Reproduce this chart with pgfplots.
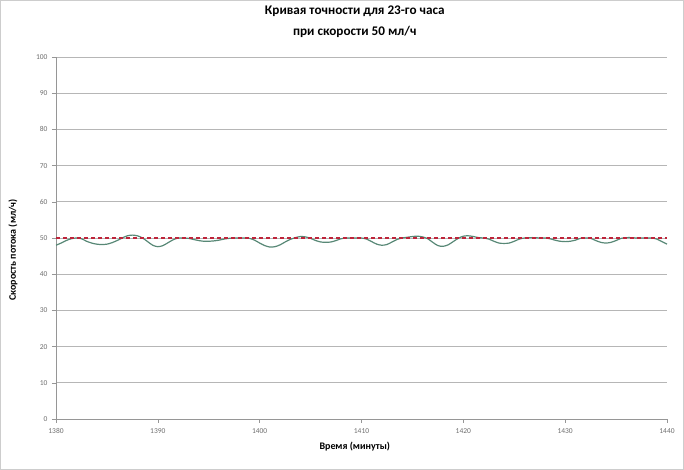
\documentclass[border=0pt]{standalone}
\usepackage{fontspec}
\setmainfont{Carlito}
\usepackage{pgfplots}
\pgfplotsset{compat=1.18}

\definecolor{curvegreen}{RGB}{88,136,118}
\definecolor{targetred}{RGB}{190,36,58}
\definecolor{gridgray}{RGB}{182,182,182}
\definecolor{axisgray}{RGB}{150,150,150}
\definecolor{ticktext}{RGB}{110,110,110}
\definecolor{framegray}{RGB}{205,205,205}

\begin{document}
\begin{tikzpicture}
  % chart area border (684 x 470)
  \draw[framegray, line width=0.8pt] (-55.6pt,-50.6pt) rectangle (627.6pt,418.6pt);

  \begin{axis}[
      scale only axis,
      width=611pt, height=362pt,
      xmin=1380, xmax=1440,
      ymin=0, ymax=100,
      xtick={1380,1390,...,1440},
      ytick={0,10,...,100},
      axis x line*=bottom,
      axis y line*=left,
      axis line style={axisgray, line width=0.6pt},
      tick align=outside,
      major tick length=4pt,
      tick style={axisgray, line width=0.5pt},
      ymajorgrids,
      grid style={gridgray, line width=0.7pt},
      /pgf/number format/assume math mode=true,
      /pgf/number format/1000 sep={},
      ticklabel style={font=\fontsize{7.5}{9}\selectfont, text=ticktext},
      yticklabel style={xshift=-1pt},
      xticklabel style={yshift=-2pt},
      title={Кривая точности для 23-го часа\\при скорости 50 мл/ч},
      title style={at={(axis description cs:0.489,1.0815)}, anchor=center,
        align=center, font=\fontsize{13.2}{21}\selectfont\bfseries},
      xlabel={Время (минуты)},
      xlabel style={at={(axis description cs:0.489,-0.0773)}, anchor=center,
        font=\fontsize{10}{12}\selectfont\bfseries},
      ylabel={Скорость потока (мл/ч)},
      ylabel style={at={(axis description cs:-0.0704,0.467)}, anchor=center,
        font=\fontsize{10}{12}\selectfont\bfseries},
      clip=false,
    ]

    % measured flow rate
    \addplot[curvegreen, line width=1.2pt, smooth, no marks] table {
      x y
      1380 48.0
      1380.5 48.6
      1381 49.3
      1381.5 49.8
      1382 50.0
      1382.5 49.8
      1383 49.1
      1383.5 48.6
      1384 48.3
      1384.5 48.2
      1385 48.3
      1385.5 48.7
      1386 49.3
      1386.5 50.0
      1387 50.6
      1387.5 50.8
      1388 50.6
      1388.5 50.0
      1389 49.0
      1389.5 48.0
      1390 47.6
      1390.5 47.9
      1391 48.7
      1391.5 49.5
      1392 50.0
      1392.5 50.0
      1393 49.9
      1393.5 49.6
      1394 49.3
      1394.5 49.1
      1395 49.1
      1395.5 49.2
      1396 49.4
      1396.5 49.7
      1397 49.9
      1397.5 50.0
      1398 50.0
      1398.5 50.0
      1399 49.9
      1399.5 49.4
      1400 48.6
      1400.5 47.9
      1401 47.5
      1401.5 47.6
      1402 48.1
      1402.5 48.9
      1403 49.6
      1403.5 50.1
      1404 50.4
      1404.5 50.3
      1405 49.9
      1405.5 49.3
      1406 48.9
      1406.5 48.8
      1407 48.9
      1407.5 49.3
      1408 49.8
      1408.5 50.0
      1409 50.0
      1409.5 50.0
      1410 50.0
      1410.5 49.7
      1411 49.0
      1411.5 48.3
      1412 48.0
      1412.5 48.2
      1413 48.9
      1413.5 49.6
      1414 50.0
      1414.5 50.2
      1415 50.4
      1415.5 50.5
      1416 50.3
      1416.5 49.8
      1417 48.8
      1417.5 47.9
      1418 47.7
      1418.5 48.1
      1419 49.0
      1419.5 49.9
      1420 50.5
      1420.5 50.6
      1421 50.4
      1421.5 50.1
      1422 50.0
      1422.5 49.7
      1423 49.1
      1423.5 48.6
      1424 48.5
      1424.5 48.6
      1425 49.1
      1425.5 49.7
      1426 50.0
      1426.5 50.1
      1427 50.1
      1427.5 50.0
      1428 50.0
      1428.5 49.8
      1429 49.4
      1429.5 49.1
      1430 49.0
      1430.5 49.1
      1431 49.4
      1431.5 49.9
      1432 50.0
      1432.5 49.9
      1433 49.3
      1433.5 48.8
      1434 48.6
      1434.5 48.8
      1435 49.3
      1435.5 49.9
      1436 50.1
      1436.5 50.1
      1437 50.0
      1437.5 50.0
      1438 50.0
      1438.5 50.0
      1439 49.7
      1439.5 49.0
      1440 48.3
    };

    % target rate
    \addplot[targetred, line width=1.4pt, dash pattern=on 4pt off 3pt, no marks] table {
      x y
      1380 50
      1440 50
    };
  \end{axis}
\end{tikzpicture}
\end{document}
